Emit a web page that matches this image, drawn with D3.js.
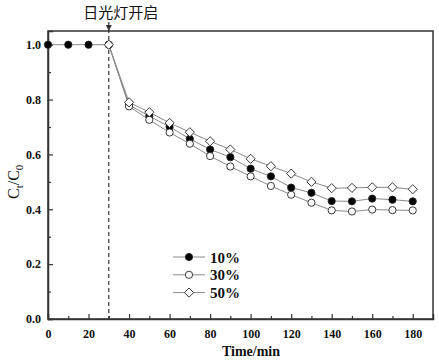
<!DOCTYPE html>
<html><head><meta charset="utf-8">
<script src="https://cdn.jsdelivr.net/npm/d3@7/dist/d3.min.js"></script>
<style>body{margin:0;background:#fff}svg{display:block}</style>
</head><body>
<script>
const times10 = [0,10,20,30,40,50,60,70,80,90,100,110,120,130,140,150,160,170,180];
const values10 = [1.0,1.0,1.0,1.0,0.78,0.74,0.70,0.657,0.618,0.59,0.548,0.52,0.479,0.46,0.43,0.429,0.439,0.435,0.429];
const times30 = [30,40,50,60,70,80,90,100,110,120,130,140,150,160,170,180];
const values30 = [1.0,0.775,0.726,0.68,0.639,0.594,0.556,0.52,0.485,0.453,0.424,0.396,0.392,0.399,0.397,0.396];
const times50 = [30,40,50,60,70,80,90,100,110,120,130,140,150,160,170,180];
const values50 = [1.0,0.79,0.754,0.715,0.681,0.648,0.618,0.584,0.557,0.53,0.50,0.477,0.478,0.48,0.48,0.473];
const seriesNames = ["10%","30%","50%"];
const xTicks = [0,20,40,60,80,100,120,140,160,180];
const yTicks = [0.0,0.2,0.4,0.6,0.8,1.0];
const lightOnTime = 30;
const annotationText = "日光灯开启";

const W=439,H=362;
const m={l:48,r:6,t:31,b:43};
const svg=d3.select("body").append("svg").attr("width",W).attr("height",H);
const x=d3.scaleLinear().domain([0,190]).range([m.l,W-m.r]);
const y=d3.scaleLinear().domain([0,1.05]).range([H-m.b,m.t]);
const axisColor="#333";
const font="'Liberation Serif','Times New Roman',serif";

// frame
svg.append("rect").attr("x",m.l).attr("y",m.t).attr("width",W-m.r-m.l).attr("height",H-m.b-m.t)
  .attr("fill","none").attr("stroke",axisColor).attr("stroke-width",1.5);

// x axis (inward ticks)
const xa=svg.append("g").attr("transform",`translate(0,${H-m.b})`)
  .call(d3.axisBottom(x).tickValues(xTicks).tickSize(-5).tickPadding(10).tickFormat(d3.format("d")));
svg.append("g").attr("transform",`translate(0,${H-m.b})`)
  .call(d3.axisBottom(x).tickValues(d3.range(10,190,20)).tickSize(-3).tickFormat(""))
  .call(g=>g.select(".domain").remove()).selectAll("line").attr("stroke",axisColor).attr("stroke-width",1.2);
const ya=svg.append("g").attr("transform",`translate(${m.l},0)`)
  .call(d3.axisLeft(y).tickValues(yTicks).tickSize(-5).tickPadding(7).tickFormat(d3.format(".1f")));
svg.append("g").attr("transform",`translate(${m.l},0)`)
  .call(d3.axisLeft(y).tickValues([0.1,0.3,0.5,0.7,0.9]).tickSize(-3).tickFormat(""))
  .call(g=>g.select(".domain").remove()).selectAll("line").attr("stroke",axisColor).attr("stroke-width",1.2);
[xa,ya].forEach(a=>{
  a.select(".domain").attr("stroke",axisColor).attr("stroke-width",1.5);
  a.selectAll(".tick line").attr("stroke",axisColor).attr("stroke-width",1.2);
  a.selectAll(".tick text").attr("font-family",font).attr("font-weight","bold").attr("font-size",12).attr("fill","#111");
});

// dashed light-on line
svg.append("line").attr("x1",x(lightOnTime)).attr("x2",x(lightOnTime)).attr("y1",22).attr("y2",H-m.b)
  .attr("stroke","#333").attr("stroke-width",1.2).attr("stroke-dasharray","4,3");
svg.append("path").attr("d",`M${x(lightOnTime)-3},${m.t-6}L${x(lightOnTime)+3},${m.t-6}L${x(lightOnTime)},${m.t}Z`).attr("fill","#333");
svg.append("text").attr("x",x(lightOnTime)+12).attr("y",18).attr("text-anchor","middle")
  .attr("font-family","'Noto Sans CJK SC',sans-serif").attr("font-size",15).attr("fill","#111").text(annotationText);

// series
const series=[
  {name:seriesNames[0],t:times10,v:values10,shape:"circle",fill:"#000"},
  {name:seriesNames[1],t:times30,v:values30,shape:"circle",fill:"#fff"},
  {name:seriesNames[2],t:times50,v:values50,shape:"diamond",fill:"#fff"}
];
const line=d3.line().x(d=>x(d[0])).y(d=>y(d[1]));
function marker(g,shape,fill,cx,cy){
  if(shape==="circle") g.append("circle").attr("cx",cx).attr("cy",cy).attr("r",3.6).attr("fill",fill).attr("stroke","#222").attr("stroke-width",0.9);
  else g.append("path").attr("d",`M${cx},${cy-4.6}L${cx+4.6},${cy}L${cx},${cy+4.6}L${cx-4.6},${cy}Z`).attr("fill",fill).attr("stroke","#222").attr("stroke-width",0.9);
}
series.forEach(s=>{
  const pts=s.t.map((t,i)=>[t,s.v[i]]);
  svg.append("path").datum(pts).attr("d",line).attr("fill","none").attr("stroke","#8a8a8a").attr("stroke-width",1);
});
series.forEach(s=>{
  const g=svg.append("g");
  s.t.forEach((t,i)=>marker(g,s.shape,s.fill,x(t),y(s.v[i])));
});

// legend
const lg=svg.append("g");
series.forEach((s,i)=>{
  const cy=257+i*17.8;
  lg.append("line").attr("x1",173).attr("x2",205).attr("y1",cy).attr("y2",cy).attr("stroke","#8a8a8a").attr("stroke-width",1);
  marker(lg,s.shape,s.fill,189,cy);
  lg.append("text").attr("x",210).attr("y",cy+5.5).attr("font-family",font).attr("font-weight","bold").attr("font-size",15).attr("fill","#111").text(s.name);
});

// axis titles
svg.append("text").attr("x",251).attr("y",356).attr("text-anchor","middle")
  .attr("font-family",font).attr("font-weight","bold").attr("font-size",14).attr("fill","#111").text("Time/min");
const yt=svg.append("text").attr("transform",`translate(19,${y(0.5)}) rotate(-90)`).attr("text-anchor","middle")
  .attr("font-family",font).attr("font-size",16).attr("fill","#111");
yt.append("tspan").text("C");
yt.append("tspan").attr("font-size",11).attr("dy",4).text("t");
yt.append("tspan").attr("dy",-4).text("/C");
yt.append("tspan").attr("font-size",11).attr("dy",4).text("0");
</script>
</body></html>
